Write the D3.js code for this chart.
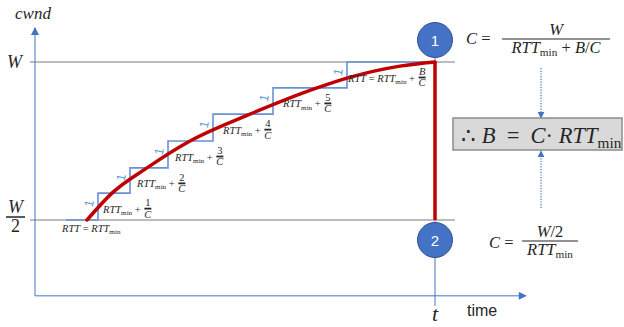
<!DOCTYPE html>
<html><head><meta charset="utf-8">
<script src="https://cdn.jsdelivr.net/npm/d3@7"></script>
<style>body{margin:0;background:#fff} svg{display:block} text{white-space:pre}</style>
</head><body><svg id="c" width="624" height="327"></svg>
<script>
// ---------- data ----------
const stepTimes   = [7.75, 15.75, 23.75, 33.25, 44.5, 59.5, 78, 100];   // time of each window increase
const stepLevels  = [0.5, 0.585, 0.665, 0.75, 0.835, 0.918, 1.0];       // cwnd / W after each increase
const stepIncrements = ["1", "1", "1", "1", "1", "1"];
const curveTimes  = [13, 19.25, 28, 38.75, 53.75, 70.5, 78, 91.25, 100];
const curveCwnd   = [0.5, 0.585, 0.665, 0.75, 0.835, 0.918, 0.949, 0.987, 1.0];
const rttNumerators = ["1", "2", "3", "4", "5", "B"];
const yTickValues = [1.0, 0.5];
const yTickLabels = ["W", "W/2"];
const lossTime = 100;
const markerLabels = ["1", "2"];
const timeExtent = [0, 122.75];
const cwndExtent = [0.26, 1.108];

// ---------- setup ----------
const SERIF = "'Liberation Serif','DejaVu Serif',serif";
const SANS = "'Liberation Sans','Open Sans',sans-serif";
const TXT = "#262626";
const svg = d3.select("#c");
const x = d3.scaleLinear().domain([0, 100]).range([35, 435]);
const y = d3.scaleLinear().domain([0.5, 1]).range([220, 62]);

const defs = svg.append("defs");
defs.append("marker").attr("id", "ah").attr("viewBox", "0 0 10 10").attr("refX", 9).attr("refY", 5)
  .attr("markerWidth", 9).attr("markerHeight", 8).attr("markerUnits", "userSpaceOnUse").attr("orient", "auto")
  .append("path").attr("d", "M0,0L10,5L0,10Z").attr("fill", "#4472c4");
defs.append("marker").attr("id", "ad").attr("viewBox", "0 0 10 10").attr("refX", 9).attr("refY", 5)
  .attr("markerWidth", 7).attr("markerHeight", 7).attr("markerUnits", "userSpaceOnUse").attr("orient", "auto")
  .append("path").attr("d", "M0,0L10,5L0,10Z").attr("fill", "#4472c4");

// helper: run of math text with italic / subscript parts
function mathRun(g, x0, yb, parts, fs, anchor) {
  const t = g.append("text").attr("x", x0).attr("y", yb).attr("font-family", SERIF)
    .attr("font-size", fs).attr("fill", TXT);
  let shift = 0;
  parts.forEach(p => {
    const sp = t.append("tspan").text(p.t);
    if (p.i) sp.attr("font-style", "italic");
    const target = p.sub ? fs * 0.2 : 0;
    if (target - shift !== 0) sp.attr("dy", target - shift);
    shift = target;
    if (p.sub) sp.attr("font-size", fs * 0.68);
  });
  const w = t.node().getComputedTextLength();
  if (anchor === "middle") t.attr("x", x0 - w / 2);
  return { node: t, w: w };
}
function frac(g, x0, yBar, num, den, fs, barW, sw) {
  const n = mathRun(g, x0, yBar - fs * 0.22, num, fs);
  const d = mathRun(g, x0, yBar + fs * 0.85, den, fs);
  const w = barW || Math.max(n.w, d.w) + 2;
  n.node.attr("x", x0 + (w - n.w) / 2);
  d.node.attr("x", x0 + (w - d.w) / 2);
  g.append("line").attr("x1", x0).attr("x2", x0 + w).attr("y1", yBar).attr("y2", yBar)
    .attr("stroke", TXT).attr("stroke-width", sw || 1.3);
  return x0 + w;
}

// ---------- reference lines ----------
yTickValues.forEach(v => {
  svg.append("line").attr("x1", x(-1.25)).attr("x2", x(105)).attr("y1", y(v)).attr("y2", y(v))
    .attr("stroke", "#a6a6a6").attr("stroke-width", 1.5);
});

// ---------- axes ----------
svg.append("line").attr("x1", x(0)).attr("x2", x(0)).attr("y1", y(cwndExtent[0])).attr("y2", y(cwndExtent[1]))
  .attr("stroke", "#4472c4").attr("stroke-width", 1).attr("marker-end", "url(#ah)");
svg.append("line").attr("x1", x(0)).attr("x2", x(timeExtent[1])).attr("y1", y(cwndExtent[0])).attr("y2", y(cwndExtent[0]))
  .attr("stroke", "#4472c4").attr("stroke-width", 1).attr("marker-end", "url(#ah)");

// vertical marker line at loss time
svg.append("line").attr("x1", x(lossTime)).attr("x2", x(lossTime)).attr("y1", 40).attr("y2", y(cwndExtent[0]) + 10)
  .attr("stroke", "#4472c4").attr("stroke-width", 1);

// ---------- step function ----------
const stepPts = stepLevels.map((l, i) => [stepTimes[i], l]).concat([[stepTimes[stepTimes.length - 1], stepLevels[stepLevels.length - 1]]]);
svg.append("path").attr("d", d3.line().x(d => x(d[0])).y(d => y(d[1])).curve(d3.curveStepAfter)(stepPts))
  .attr("fill", "none").attr("stroke", "#6a90d6").attr("stroke-width", 1.6);

// increment "1" labels
stepIncrements.forEach((s, i) => {
  const vx = x(stepTimes[i + 1]);
  const my = (y(stepLevels[i]) + y(stepLevels[i + 1])) / 2;
  svg.append("text").attr("transform", `translate(${vx - 9},${my - 3}) rotate(-78)`)
    .attr("text-anchor", "middle").attr("dy", "0.35em").attr("font-family", SANS).attr("font-size", 12.5)
    .attr("fill", "#5b9bd5").text(s);
});

// ---------- cwnd curve ----------
svg.append("path").attr("d", d3.line().x((d, i) => x(curveTimes[i])).y(d => y(d)).curve(d3.curveMonotoneX)(curveCwnd))
  .attr("fill", "none").attr("stroke", "#c00000").attr("stroke-width", 3.5).attr("stroke-linecap", "round");
svg.append("line").attr("x1", x(lossTime)).attr("x2", x(lossTime)).attr("y1", y(1)).attr("y2", y(0.5))
  .attr("stroke", "#c00000").attr("stroke-width", 3.5);

// ---------- RTT labels ----------
const fsL = 10.5;
mathRun(svg, 62, 232, [{ t: "RTT", i: 1 }, { t: " = " }, { t: "RTT", i: 1 }, { t: "min", sub: 1 }], fsL);
const labOff = [5, 7, 7, 10, 10, 1];
rttNumerators.forEach((nm, i) => {
  const vx = x(stepTimes[i + 1]) + labOff[i];
  const yBar = y(stepLevels[i + 1]) + 15.5;
  const parts = (i === rttNumerators.length - 1 ? [{ t: "RTT", i: 1 }, { t: " = " }] : [])
    .concat([{ t: "RTT", i: 1 }, { t: "min", sub: 1 }, { t: " + " }]);
  const r = mathRun(svg, vx, yBar + 4, parts, fsL);
  frac(svg, vx + r.w + 1, yBar, [{ t: nm, i: nm === "B" ? 1 : 0 }], [{ t: "C", i: 1 }], fsL, 7, 1.8);
});

// ---------- circles ----------
[[1.0, 40, markerLabels[0]], [0.5, 240, markerLabels[1]]].forEach(([v, cy, lab]) => {
  svg.append("circle").attr("cx", x(lossTime)).attr("cy", cy).attr("r", 17.5)
    .attr("fill", "#4472c4").attr("stroke", "#2f528f").attr("stroke-width", 1);
  svg.append("text").attr("x", x(lossTime)).attr("y", cy + 5.5).attr("text-anchor", "middle")
    .attr("font-family", SANS).attr("font-size", 15).attr("fill", "#fff").text(lab);
});

// ---------- axis labels ----------
svg.append("text").attr("x", 15).attr("y", 19).attr("font-family", SERIF).attr("font-style", "italic")
  .attr("font-size", 17).attr("fill", TXT).text("cwnd");
svg.append("text").attr("x", 7).attr("y", y(yTickValues[0]) + 6).attr("font-family", SERIF).attr("font-style", "italic")
  .attr("font-size", 18).attr("fill", TXT).text(yTickLabels[0]);
{
  const [nm, dn] = yTickLabels[1].split("/");
  frac(svg, 6, y(yTickValues[1]) - 3, [{ t: nm, i: 1 }], [{ t: dn }], 18, 19, 1.5);
}
svg.append("text").attr("x", x(lossTime)).attr("y", 321).attr("text-anchor", "middle").attr("font-family", SERIF)
  .attr("font-style", "italic").attr("font-size", 22).attr("fill", TXT).text("t");
svg.append("text").attr("x", 467).attr("y", 316).attr("font-family", SANS).attr("font-size", 16)
  .attr("fill", TXT).text("time");

// ---------- right-hand formulas ----------
const fsF = 16.5;
mathRun(svg, 466, 44, [{ t: "C", i: 1 }, { t: " = " }], fsF);
frac(svg, 502, 39, [{ t: "W", i: 1 }],
  [{ t: "RTT", i: 1 }, { t: "min", sub: 1 }, { t: " + " }, { t: "B", i: 1 }, { t: "/" }, { t: "C", i: 1 }], fsF, 108, 1.2);

svg.append("line").attr("x1", 541).attr("x2", 541).attr("y1", 68).attr("y2", 118)
  .attr("stroke", "#4472c4").attr("stroke-width", 1.2).attr("stroke-dasharray", "1.2,1.5").attr("marker-end", "url(#ad)");
svg.append("rect").attr("x", 453).attr("y", 118).attr("width", 169).attr("height", 32)
  .attr("fill", "#d9d9d9").attr("stroke", "#8c8c8c").attr("stroke-width", 1.5);
mathRun(svg, 461, 143, [{ t: "∴ " }, { t: "B", i: 1 }, { t: "  =  " }, { t: "C", i: 1 }, { t: "· " }, { t: "RTT", i: 1 }, { t: "min", sub: 1 }], 22.5);
svg.append("line").attr("x1", 541).attr("x2", 541).attr("y1", 208).attr("y2", 151)
  .attr("stroke", "#4472c4").attr("stroke-width", 1.2).attr("stroke-dasharray", "1.2,1.5").attr("marker-end", "url(#ad)");

mathRun(svg, 489, 248, [{ t: "C", i: 1 }, { t: " = " }], fsF);
frac(svg, 522, 241, [{ t: "W", i: 1 }, { t: "/2" }], [{ t: "RTT", i: 1 }, { t: "min", sub: 1 }], fsF, 56, 1.2);
</script></body></html>
